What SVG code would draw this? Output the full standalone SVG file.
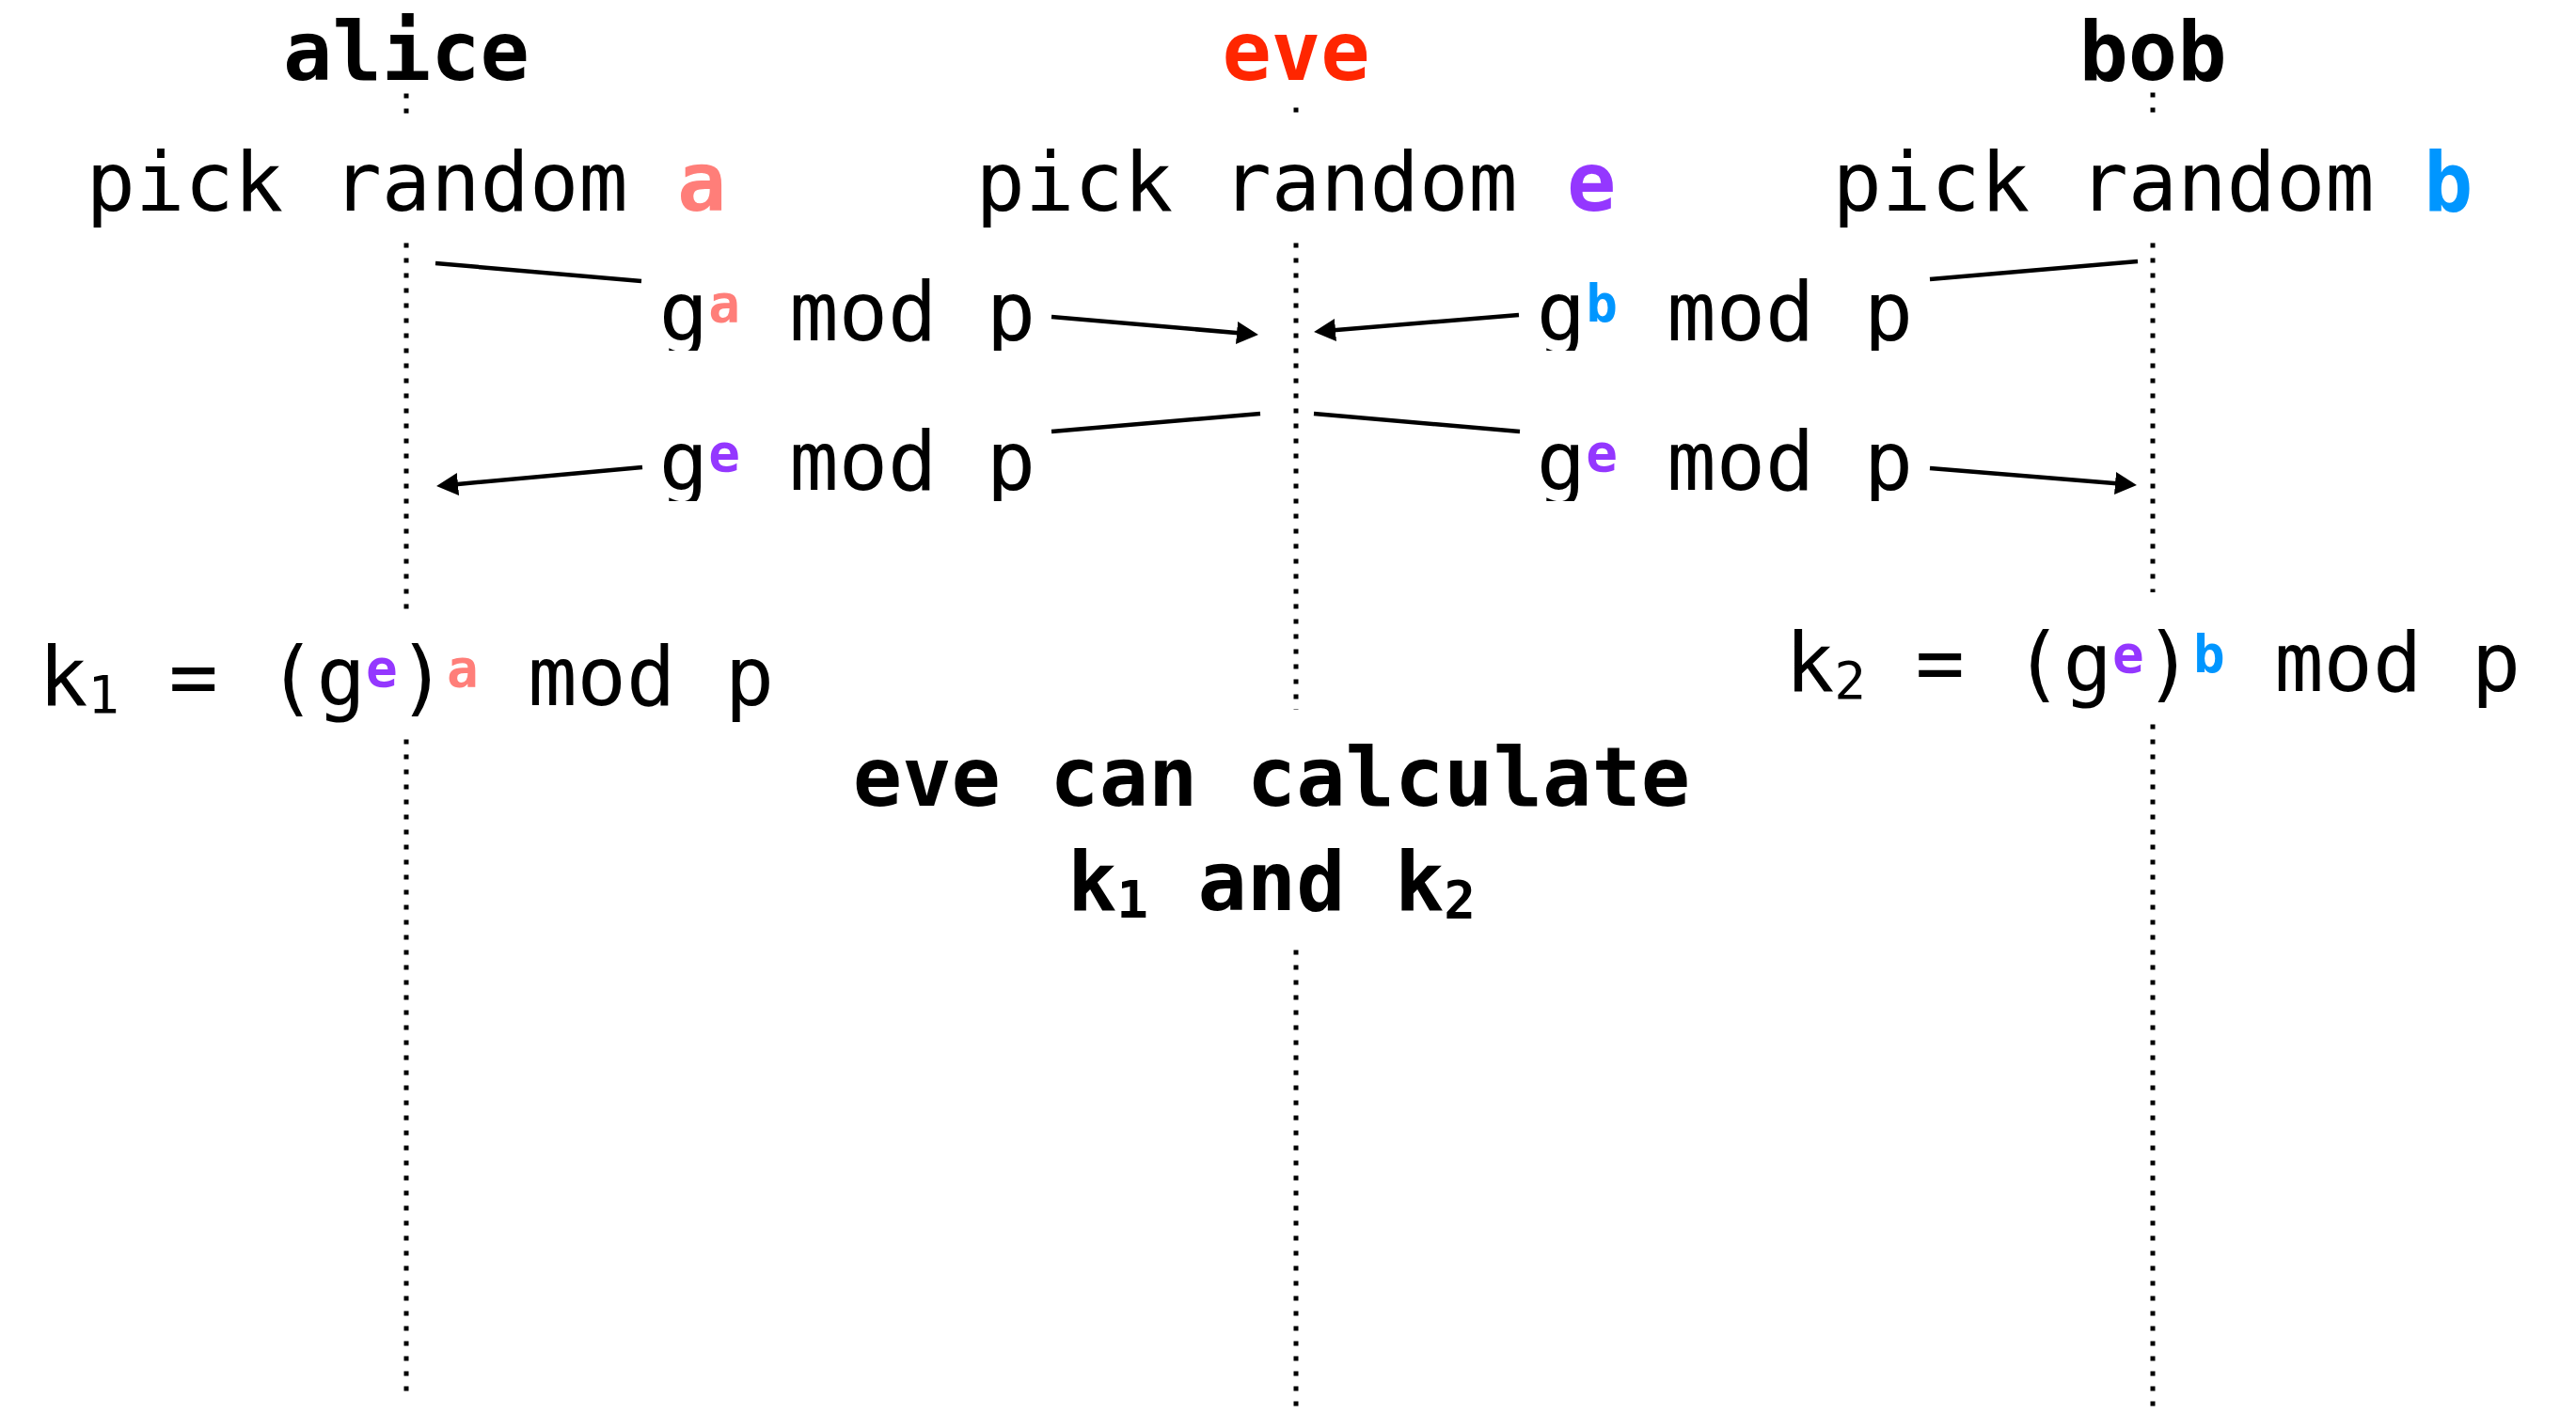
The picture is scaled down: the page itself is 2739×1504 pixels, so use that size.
<svg xmlns="http://www.w3.org/2000/svg" width="2739" height="1504" viewBox="0 0 2739 1504">
<style>
text{font-family:"DejaVu Sans Mono","Liberation Mono",monospace;font-size:87px;fill:#000;white-space:pre}
.b{font-weight:bold}
.s{font-size:56px;font-weight:bold}
.sub{font-size:56px}
.red{fill:#FF2600}
.sal{fill:#FF7E79}
.pur{fill:#9437FF}
.blu{fill:#0096FF}
.life{stroke:#000;stroke-width:5;stroke-dasharray:5 11;fill:none}
.msg{stroke:#000;stroke-width:4.5;fill:none}
</style>
<defs>
<marker id="ah" markerUnits="userSpaceOnUse" markerWidth="26" markerHeight="26" refX="8" refY="12" orient="auto">
<path d="M0,0 L23,12 L0,24 z" fill="#000"/>
</marker>
<clipPath id="row1"><rect x="0" y="240" width="2739" height="133"/></clipPath>
<clipPath id="row2"><rect x="0" y="400" width="2739" height="133"/></clipPath>
</defs>
<rect width="2739" height="1504" fill="#fff"/>
<g id="lifelines">
<line class="life" x1="432" y1="99.5" x2="432" y2="122"/>
<line class="life" x1="432" y1="258.5" x2="432" y2="648"/>
<line class="life" x1="432" y1="786.5" x2="432" y2="1485"/>
<line class="life" x1="1378" y1="114.5" x2="1378" y2="120"/>
<line class="life" x1="1378" y1="258.5" x2="1378" y2="755"/>
<line class="life" x1="1378" y1="1010.5" x2="1378" y2="1499"/>
<line class="life" x1="2289" y1="98.5" x2="2289" y2="122"/>
<line class="life" x1="2289" y1="258.5" x2="2289" y2="630"/>
<line class="life" x1="2289" y1="770.5" x2="2289" y2="1499"/>
</g>
<g id="connectors">
<line class="msg" x1="463" y1="280" x2="682" y2="299"/>
<line class="msg" x1="1118" y1="337" x2="1323" y2="354.7" marker-end="url(#ah)"/>
<line class="msg" x1="2273" y1="278" x2="2052" y2="297"/>
<line class="msg" x1="1615" y1="335" x2="1412" y2="351.7" marker-end="url(#ah)"/>
<line class="msg" x1="1340" y1="440" x2="1118" y2="459"/>
<line class="msg" x1="683" y1="497" x2="479" y2="515.7" marker-end="url(#ah)"/>
<line class="msg" x1="1397" y1="440" x2="1616" y2="459"/>
<line class="msg" x1="2052" y1="498" x2="2257" y2="514.7" marker-end="url(#ah)"/>
</g>
<g id="alice">
<text class="b" x="432" y="85" text-anchor="middle">alice</text>
<text x="432" y="224" text-anchor="middle">pick random <tspan class="b sal">a</tspan></text>
</g>
<g id="eve">
<text class="b red" x="1378" y="85" text-anchor="middle">eve</text>
<text x="1378" y="224" text-anchor="middle">pick random <tspan class="b pur">e</tspan></text>
</g>
<g id="bob">
<text class="b" x="2289" y="85" text-anchor="middle">bob</text>
<text x="2289" y="224" text-anchor="middle">pick random <tspan class="b blu">b</tspan></text>
</g>
<g id="label-ga" clip-path="url(#row1)">
<text x="901" y="362" text-anchor="middle">g<tspan class="s sal" dy="-20">a</tspan><tspan dy="20"> mod p</tspan></text>
</g>
<g id="label-gb" clip-path="url(#row1)">
<text x="1834" y="362" text-anchor="middle">g<tspan class="s blu" dy="-20">b</tspan><tspan dy="20"> mod p</tspan></text>
</g>
<g id="label-ge-alice" clip-path="url(#row2)">
<text x="901" y="521" text-anchor="middle">g<tspan class="s pur" dy="-20">e</tspan><tspan dy="20"> mod p</tspan></text>
</g>
<g id="label-ge-bob" clip-path="url(#row2)">
<text x="1834" y="521" text-anchor="middle">g<tspan class="s pur" dy="-20">e</tspan><tspan dy="20"> mod p</tspan></text>
</g>
<g id="k1">
<text x="432" y="750" text-anchor="middle">k<tspan class="sub" dy="8">1</tspan><tspan dy="-8"> = (g</tspan><tspan class="s pur" dy="-20">e</tspan><tspan dy="20">)</tspan><tspan class="s sal" dy="-20">a</tspan><tspan dy="20"> mod p</tspan></text>
</g>
<g id="k2">
<text x="2289" y="735" text-anchor="middle">k<tspan class="sub" dy="8">2</tspan><tspan dy="-8"> = (g</tspan><tspan class="s pur" dy="-20">e</tspan><tspan dy="20">)</tspan><tspan class="s blu" dy="-20">b</tspan><tspan dy="20"> mod p</tspan></text>
</g>
<g id="note">
<text class="b" x="1352" y="857" text-anchor="middle">eve can calculate</text>
<text class="b" x="1352" y="968" text-anchor="middle">k<tspan class="s" dy="8">1</tspan><tspan dy="-8"> and k</tspan><tspan class="s" dy="8">2</tspan></text>
</g>
</svg>
